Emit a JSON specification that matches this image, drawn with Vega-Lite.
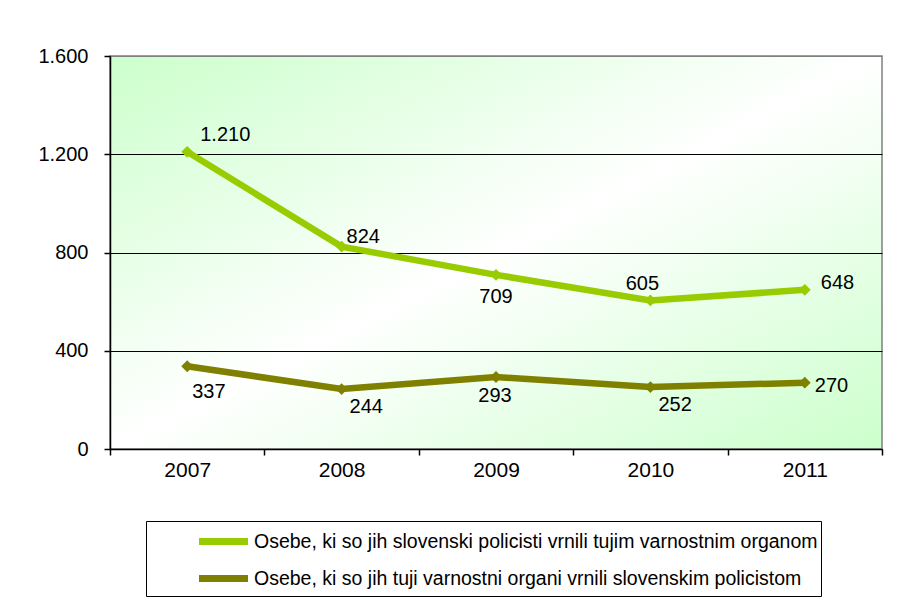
{
  "$schema": "https://vega.github.io/schema/vega-lite/v6.json",
  "width": 772,
  "height": 393,
  "autosize": {"type": "none"},
  "padding": {"left": 110, "top": 56, "right": 21, "bottom": 156},
  "background": "white",
  "config": {
    "locale": {"number": {"decimal": ",", "thousands": ".", "grouping": [3], "currency": ["", " €"]}},
    "font": "Liberation Sans",
    "view": {
      "stroke": "#808080",
      "strokeWidth": 1.5,
      "fill": {
        "gradient": "linear",
        "x1": 0, "y1": 0, "x2": 1, "y2": 1,
        "stops": [
          {"offset": 0, "color": "#ccffcc"},
          {"offset": 0.5, "color": "#ffffff"},
          {"offset": 1, "color": "#ccffcc"}
        ]
      }
    }
  },
  "data": {
    "values": [
      {"year": "2007", "code": "A", "series": "Osebe, ki so jih slovenski policisti vrnili tujim varnostnim organom", "value": 1210},
      {"year": "2008", "code": "A", "series": "Osebe, ki so jih slovenski policisti vrnili tujim varnostnim organom", "value": 824},
      {"year": "2009", "code": "A", "series": "Osebe, ki so jih slovenski policisti vrnili tujim varnostnim organom", "value": 709},
      {"year": "2010", "code": "A", "series": "Osebe, ki so jih slovenski policisti vrnili tujim varnostnim organom", "value": 605},
      {"year": "2011", "code": "A", "series": "Osebe, ki so jih slovenski policisti vrnili tujim varnostnim organom", "value": 648},
      {"year": "2007", "code": "B", "series": "Osebe, ki so jih tuji varnostni organi vrnili slovenskim policistom", "value": 337},
      {"year": "2008", "code": "B", "series": "Osebe, ki so jih tuji varnostni organi vrnili slovenskim policistom", "value": 244},
      {"year": "2009", "code": "B", "series": "Osebe, ki so jih tuji varnostni organi vrnili slovenskim policistom", "value": 293},
      {"year": "2010", "code": "B", "series": "Osebe, ki so jih tuji varnostni organi vrnili slovenskim policistom", "value": 252},
      {"year": "2011", "code": "B", "series": "Osebe, ki so jih tuji varnostni organi vrnili slovenskim policistom", "value": 270}
    ]
  },
  "encoding": {
    "x": {
      "field": "year", "type": "ordinal",
      "scale": {"type": "band", "paddingInner": 0, "paddingOuter": 0},
      "axis": {
        "title": null, "labelAngle": 0, "tickBand": "extent", "grid": false,
        "domainColor": "black", "domainWidth": 1.5, "tickColor": "black", "tickSize": 6, "tickWidth": 1.5,
        "labelFontSize": 21, "labelColor": "black", "labelPadding": 4, "labelFont": "Liberation Sans"
      }
    },
    "y": {
      "field": "value", "type": "quantitative",
      "scale": {"domain": [0, 1600], "nice": false},
      "axis": {
        "title": null, "values": [0, 400, 800, 1200, 1600], "format": ",d",
        "grid": true,
        "gridColor": {"condition": {"test": "datum.value == 1600", "value": "#808080"}, "value": "black"},
        "gridWidth": 1.2,
        "domainColor": "black", "domainWidth": 1.5, "tickColor": "black", "tickSize": 6, "tickWidth": 1.5,
        "labelFontSize": 20, "labelColor": "black", "labelPadding": 16, "labelFont": "Liberation Sans"
      }
    }
  },
  "layer": [
    {
      "mark": {"type": "line", "strokeWidth": 6.5, "point": {"shape": "diamond", "size": 140, "filled": true}},
      "encoding": {
        "color": {
          "field": "series", "type": "nominal",
          "scale": {
            "domain": ["Osebe, ki so jih slovenski policisti vrnili tujim varnostnim organom", "Osebe, ki so jih tuji varnostni organi vrnili slovenskim policistom"],
            "range": ["#99cc00", "#808000"]
          },
          "legend": {
            "title": null, "orient": "none", "legendX": 36, "legendY": 465, "direction": "vertical",
            "strokeColor": "black", "fillColor": "white", "padding": 3,
            "symbolType": "M-1.75,0H1.75", "symbolStrokeWidth": 7, "symbolSize": 784, "symbolOffset": 57,
            "labelFontSize": 19.5, "labelColor": "black", "labelLimit": 800, "labelOffset": 13,
            "rowPadding": 5, "labelFont": "Liberation Sans"
          }
        }
      }
    },
    {
      "transform": [{"filter": "datum.code == 'A' && datum.year == '2007'"}],
      "mark": {"type": "text", "align": "left", "baseline": "middle", "dx": 13, "dy": -17, "fontSize": 20, "color": "black"},
      "encoding": {"text": {"field": "value", "type": "quantitative", "format": ",d"}}
    },
    {
      "transform": [{"filter": "datum.code == 'A' && datum.year == '2008'"}],
      "mark": {"type": "text", "align": "left", "baseline": "middle", "dx": 5, "dy": -10, "fontSize": 20, "color": "black"},
      "encoding": {"text": {"field": "value", "type": "quantitative", "format": ",d"}}
    },
    {
      "transform": [{"filter": "datum.code == 'A' && datum.year == '2009'"}],
      "mark": {"type": "text", "align": "center", "baseline": "middle", "dx": 0, "dy": 22, "fontSize": 20, "color": "black"},
      "encoding": {"text": {"field": "value", "type": "quantitative", "format": ",d"}}
    },
    {
      "transform": [{"filter": "datum.code == 'A' && datum.year == '2010'"}],
      "mark": {"type": "text", "align": "center", "baseline": "middle", "dx": -8, "dy": -16, "fontSize": 20, "color": "black"},
      "encoding": {"text": {"field": "value", "type": "quantitative", "format": ",d"}}
    },
    {
      "transform": [{"filter": "datum.code == 'A' && datum.year == '2011'"}],
      "mark": {"type": "text", "align": "left", "baseline": "middle", "dx": 16, "dy": -7, "fontSize": 20, "color": "black"},
      "encoding": {"text": {"field": "value", "type": "quantitative", "format": ",d"}}
    },
    {
      "transform": [{"filter": "datum.code == 'B' && datum.year == '2007'"}],
      "mark": {"type": "text", "align": "left", "baseline": "middle", "dx": 5, "dy": 26, "fontSize": 20, "color": "black"},
      "encoding": {"text": {"field": "value", "type": "quantitative", "format": ",d"}}
    },
    {
      "transform": [{"filter": "datum.code == 'B' && (datum.year == '2008' || datum.year == '2010')"}],
      "mark": {"type": "text", "align": "left", "baseline": "middle", "dx": 8, "dy": 18, "fontSize": 20, "color": "black"},
      "encoding": {"text": {"field": "value", "type": "quantitative", "format": ",d"}}
    },
    {
      "transform": [{"filter": "datum.code == 'B' && datum.year == '2009'"}],
      "mark": {"type": "text", "align": "center", "baseline": "middle", "dx": -1, "dy": 19, "fontSize": 20, "color": "black"},
      "encoding": {"text": {"field": "value", "type": "quantitative", "format": ",d"}}
    },
    {
      "transform": [{"filter": "datum.code == 'B' && datum.year == '2011'"}],
      "mark": {"type": "text", "align": "left", "baseline": "middle", "dx": 10, "dy": 3, "fontSize": 20, "color": "black"},
      "encoding": {"text": {"field": "value", "type": "quantitative", "format": ",d"}}
    }
  ]
}
